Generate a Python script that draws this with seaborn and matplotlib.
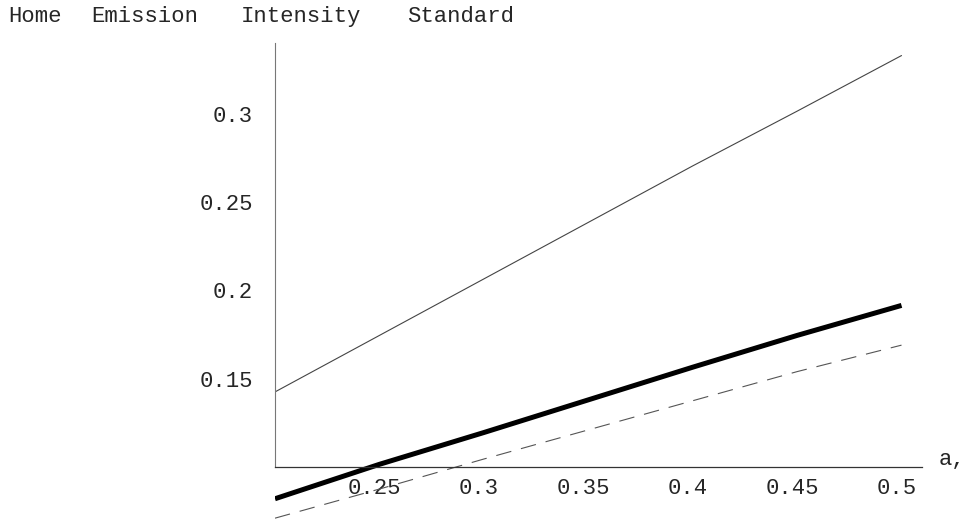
import numpy as np
import pandas as pd
import matplotlib
matplotlib.use("Agg")
import matplotlib.pyplot as plt
import matplotlib.transforms as mtransforms
from matplotlib.ticker import MultipleLocator, FixedLocator, FuncFormatter
import seaborn as sns

# --- data ---
a_vals = [0.2, 0.25, 0.3, 0.35, 0.4, 0.45, 0.5]
upper = [0.1425, 0.1745, 0.2065, 0.2385, 0.2705, 0.3015, 0.333]
middle = [0.082, 0.1015, 0.1195, 0.1380, 0.1565, 0.1745, 0.1915]
lower = [0.071, 0.0875, 0.1045, 0.1210, 0.1375, 0.1540, 0.1690]

x_ticks = [0.25, 0.3, 0.35, 0.4, 0.45, 0.5]
y_ticks = [0.15, 0.2, 0.25, 0.3]
title_words = ["Home", "Emission", "Intensity", "Standard"]
title_x_px = [8, 91, 241, 407]

sns.set_style("white")
plt.rcParams["font.family"] = ["Liberation Mono", "DejaVu Sans Mono"]

W, H = 969, 521
fig = plt.figure(figsize=(W / 100, H / 100), dpi=100)

# axes frame placed so that (0.2, 0.1) lands where the reference axes cross
x0, x1 = 0.2, 0.51
y0, y1 = 0.0694, 0.34
ax = fig.add_axes([275 / W, 0.0, (922.4 - 275) / W, (521 - 43.2) / H])

df = pd.DataFrame({"a": a_vals, "upper": upper, "middle": middle, "lower": lower})

sns.lineplot(data=df, x="a", y="upper", ax=ax, color="#444444", lw=0.8)
sns.lineplot(data=df, x="a", y="middle", ax=ax, color="black", lw=3.6,
             solid_capstyle="butt")
sns.lineplot(data=df, x="a", y="lower", ax=ax, color="#555555", lw=0.8,
             dashes=(14, 9))
ax.lines[-1].set_linestyle((0, (14, 9)))

ax.set_xlim(x0, x1)
ax.set_ylim(y0, y1)
ax.set_xlabel("")
ax.set_ylabel("")

for s in ["top", "right"]:
    ax.spines[s].set_visible(False)
ax.spines["left"].set_position(("data", 0.2))
ax.spines["left"].set_bounds(0.1, y1)
ax.spines["left"].set_color("#777777")
ax.spines["left"].set_linewidth(0.8)
ax.spines["bottom"].set_position(("data", 0.1))
ax.spines["bottom"].set_bounds(0.2, 0.51)
ax.spines["bottom"].set_color("#333333")
ax.spines["bottom"].set_linewidth(0.9)

fmt = FuncFormatter(lambda v, p: f"{v:g}")
ax.xaxis.set_major_locator(FixedLocator(x_ticks))
ax.xaxis.set_minor_locator(MultipleLocator(0.01))
ax.yaxis.set_major_locator(FixedLocator(y_ticks))
ax.yaxis.set_minor_locator(MultipleLocator(0.01))
ax.xaxis.set_major_formatter(fmt)
ax.yaxis.set_major_formatter(fmt)

ax.tick_params(axis="both", which="major", direction="in", length=4, width=0.6,
               color="#555555", labelsize=16)
ax.tick_params(axis="both", which="minor", direction="in", length=2, width=0.5,
               color="#777777")
ax.tick_params(axis="x", which="major", pad=8)
ax.tick_params(axis="y", which="major", pad=16)

shift = mtransforms.ScaledTranslation(-5 / 100, 0, fig.dpi_scale_trans)
for lab in ax.get_xticklabels():
    lab.set_transform(lab.get_transform() + shift)

# axis label "a," at the end of the horizontal axis
fig.text(939 / W, 1 - 465 / H, "a,", fontsize=16, ha="left", va="baseline")

# title words, placed like the reference
for word, px in zip(title_words, title_x_px):
    fig.text(px / W, 1 - 22 / H, word, fontsize=16, ha="left", va="baseline")

fig.savefig("out.png", dpi=100, facecolor="white")
